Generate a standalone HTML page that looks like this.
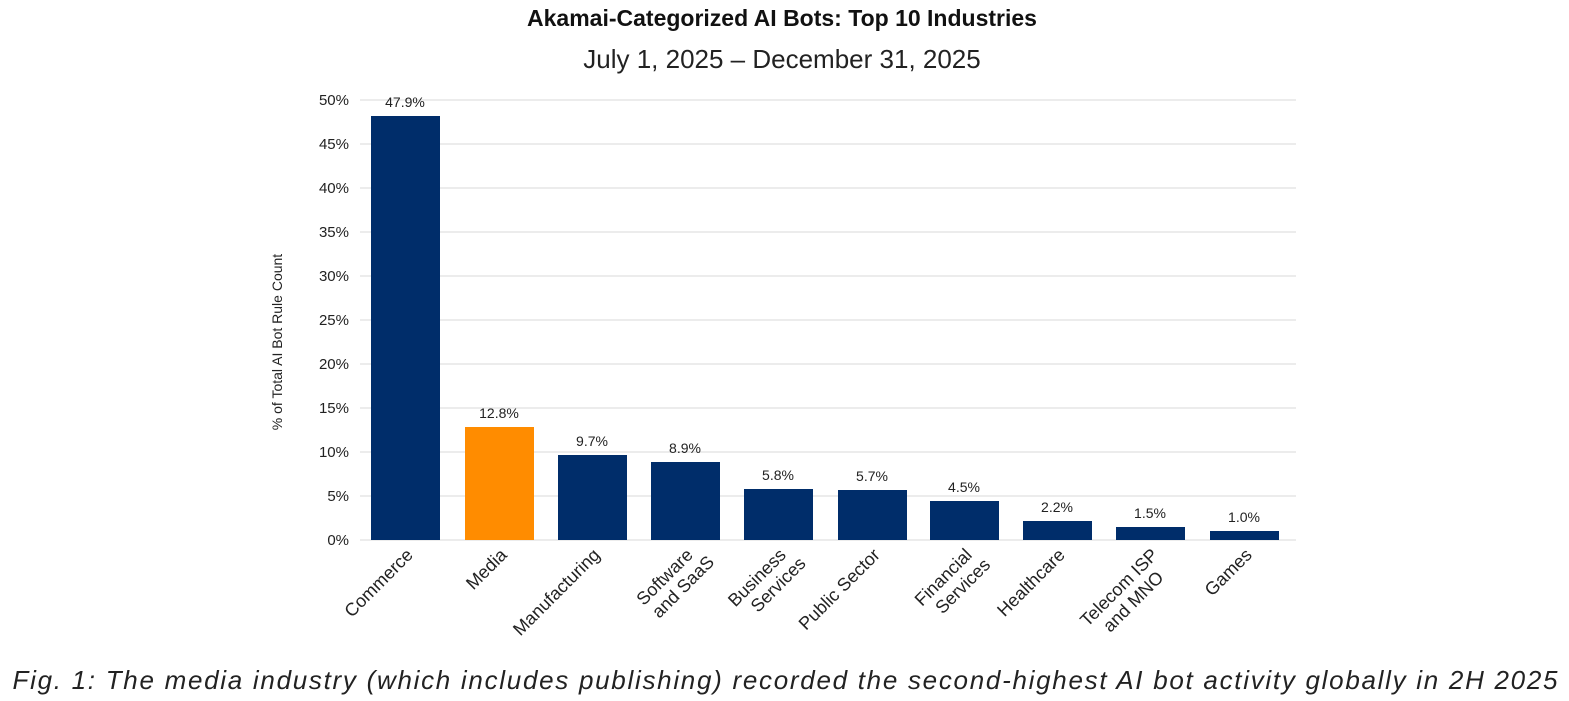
<!DOCTYPE html>
<html><head><meta charset="utf-8"><style>
body{margin:0;background:#fff;}
svg{display:block;font-family:"Liberation Sans",sans-serif;}
</style></head><body>
<svg width="1569" height="701" viewBox="0 0 1569 701">
<text x="782" y="26" font-size="23" font-weight="bold" text-anchor="middle" fill="#111">Akamai-Categorized AI Bots: Top 10 Industries</text>
<text x="782" y="68" font-size="26" text-anchor="middle" fill="#222">July 1, 2025 – December 31, 2025</text>
<g stroke="#d9d9d9" stroke-width="1">
<line x1="360" x2="1296" y1="100" y2="100"/><line x1="360" x2="1296" y1="144" y2="144"/>
<line x1="360" x2="1296" y1="188" y2="188"/><line x1="360" x2="1296" y1="232" y2="232"/>
<line x1="360" x2="1296" y1="276" y2="276"/><line x1="360" x2="1296" y1="320" y2="320"/>
<line x1="360" x2="1296" y1="364" y2="364"/><line x1="360" x2="1296" y1="408" y2="408"/>
<line x1="360" x2="1296" y1="452" y2="452"/><line x1="360" x2="1296" y1="496" y2="496"/>
<line x1="360" x2="1296" y1="540" y2="540"/>
</g>
<g font-size="15" fill="#222" text-anchor="end">
<text x="349" y="105">50%</text><text x="349" y="149">45%</text><text x="349" y="193">40%</text>
<text x="349" y="237">35%</text><text x="349" y="281">30%</text><text x="349" y="325">25%</text>
<text x="349" y="369">20%</text><text x="349" y="413">15%</text><text x="349" y="457">10%</text>
<text x="349" y="501">5%</text><text x="349" y="545">0%</text>
</g>
<text transform="translate(282,342) rotate(-90)" font-size="14" text-anchor="middle" fill="#222">% of Total AI Bot Rule Count</text>
<g fill="#002d6a">
<rect x="371" y="116" width="69" height="424"/>
<rect x="465" y="427" width="69" height="113" fill="#ff8c00"/>
<rect x="558" y="455" width="69" height="85"/>
<rect x="651" y="462" width="69" height="78"/>
<rect x="744" y="489" width="69" height="51"/>
<rect x="838" y="490" width="69" height="50"/>
<rect x="930" y="501" width="69" height="39"/>
<rect x="1023" y="521" width="69" height="19"/>
<rect x="1116" y="527" width="69" height="13"/>
<rect x="1210" y="531" width="69" height="9"/>
</g>
<g font-size="14" fill="#222" text-anchor="middle">
<text x="405" y="107">47.9%</text><text x="499" y="418">12.8%</text><text x="592" y="446">9.7%</text>
<text x="685" y="453">8.9%</text><text x="778" y="480">5.8%</text><text x="872" y="481">5.7%</text>
<text x="964" y="492">4.5%</text><text x="1057" y="512">2.2%</text><text x="1150" y="518">1.5%</text>
<text x="1244" y="522">1.0%</text>
</g>
<g font-size="18" fill="#222" text-anchor="end">
<text transform="translate(414,556) rotate(-45)">Commerce</text>
<text transform="translate(508,556) rotate(-45)">Media</text>
<text transform="translate(601,556) rotate(-45)">Manufacturing</text>
<text transform="translate(694,556) rotate(-45)"><tspan x="0" y="0">Software</tspan><tspan x="10" y="20">and SaaS</tspan></text>
<text transform="translate(787,556) rotate(-45)"><tspan x="0" y="0">Business</tspan><tspan x="8" y="20">Services</tspan></text>
<text transform="translate(881,556) rotate(-45)">Public Sector</text>
<text transform="translate(973,556) rotate(-45)"><tspan x="0" y="0">Financial</tspan><tspan x="6" y="20">Services</tspan></text>
<text transform="translate(1066,556) rotate(-45)">Healthcare</text>
<text transform="translate(1159,556) rotate(-45)"><tspan x="0" y="0">Telecom ISP</tspan><tspan x="-12" y="20">and MNO</tspan></text>
<text transform="translate(1253,556) rotate(-45)">Games</text>
</g>
<text x="785" y="689" font-size="26" font-style="italic" text-anchor="middle" fill="#222" textLength="1545">Fig. 1: The media industry (which includes publishing) recorded the second-highest AI bot activity globally in 2H 2025</text>
</svg>
</body></html>
